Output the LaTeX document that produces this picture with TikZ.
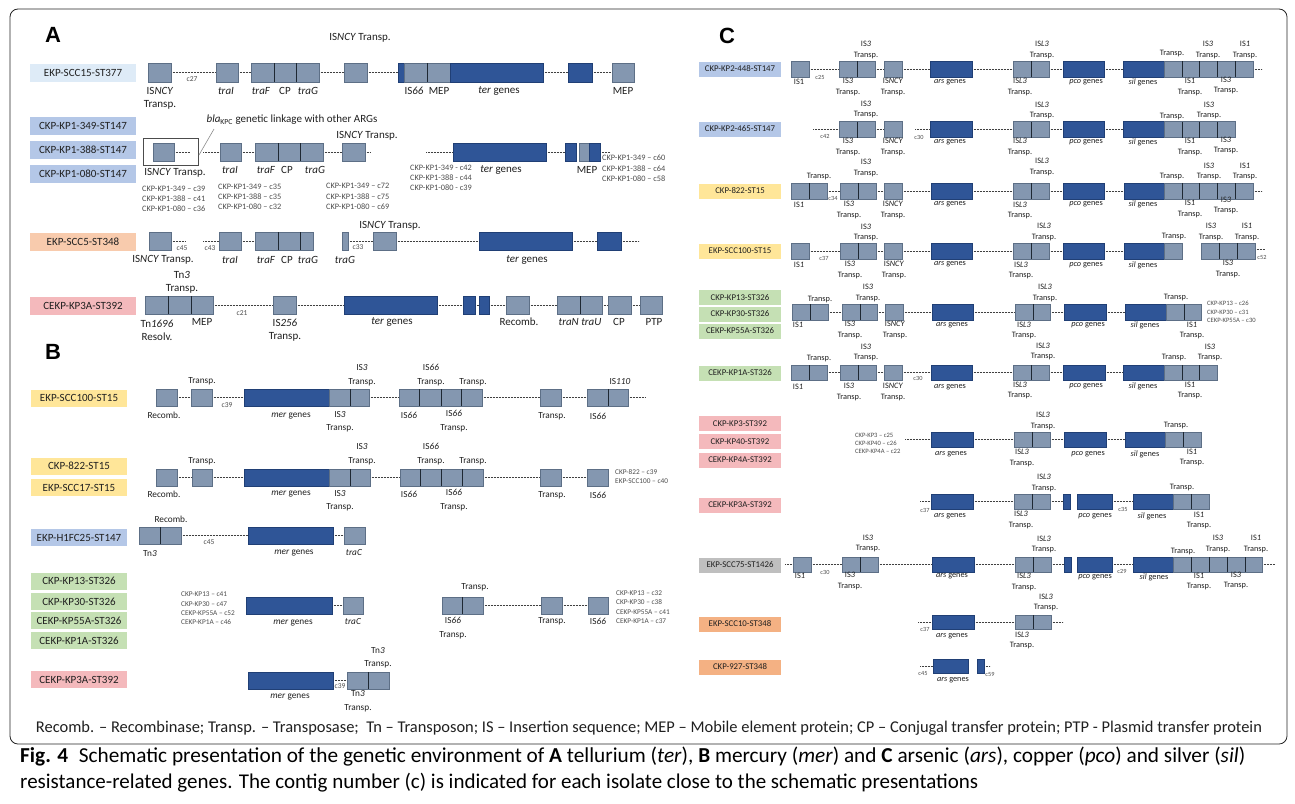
\documentclass[tikz,border=0pt]{standalone}
\usepackage{fontspec}
\setmainfont{Carlito}
\newfontfamily\hdfont{Liberation Sans}
\definecolor{lgf}{HTML}{8497B0}
\definecolor{lgd}{HTML}{5D6F86}
\definecolor{dbf}{HTML}{2F5597}
\definecolor{dbd}{HTML}{203F75}
\definecolor{dvc}{HTML}{1E2833}
\definecolor{dlc}{HTML}{404040}
\definecolor{cLB}{HTML}{DEEBF7}
\definecolor{cMB}{HTML}{B4C7E7}
\definecolor{cPe}{HTML}{F8CBAD}
\definecolor{cPk}{HTML}{F4B9BC}
\definecolor{cYe}{HTML}{FFE699}
\definecolor{cGr}{HTML}{C5E0B4}
\definecolor{cGy}{HTML}{BFBFBF}
\definecolor{cOr}{HTML}{F4B183}
\definecolor{txt}{HTML}{202020}
\definecolor{ctx}{HTML}{4D4D4D}
\newcounter{nn}
\newcommand\rowset[3]{\gdef\rowT{#1}\gdef\rowB{#2}\gdef\rowM{#3}}
\newcommand\gLt[2]{\draw[lbx] (#1,\rowT) rectangle (#2,\rowB);}
\newcommand\gDk[2]{\draw[dbx] (#1,\rowT) rectangle (#2,\rowB);}
\newcommand\gDv[1]{\draw[dvx] (#1,\rowT) -- (#1,\rowB);}
\newcommand\gDl[2]{\draw[dlx] (#1,\rowM) -- (#2,\rowM);}
\newcommand\gTx[4]{\stepcounter{nn}\node[#1] (t\arabic{nn}) at (#2,#3) {#4};}
\newcommand\gLab[5]{\stepcounter{nn}\node[#1,fill=#2] (l\arabic{nn}) at (#3,#4) {#5};}
\tikzset{
 lbx/.style={fill=lgf,draw=lgd,line width=0.6pt},
 dbx/.style={fill=dbf,draw=dbd,line width=0.6pt},
 dvx/.style={draw=dvc,line width=0.9pt},
 dlx/.style={draw=dlc,line width=0.9pt,dash pattern=on 0.7pt off 0.8pt},
 labA/.style={inner sep=0,minimum width=106pt,minimum height=18pt,font=\fontsize{11}{12}\selectfont,text=txt},
 labB/.style={inner sep=0,minimum width=96pt,minimum height=17pt,font=\fontsize{11}{12}\selectfont,text=txt},
 labC/.style={inner sep=0,minimum width=82pt,minimum height=15pt,font=\fontsize{8.8}{10}\selectfont,text=txt},
 ga/.style={inner sep=0,align=center,font=\fontsize{11}{13}\selectfont,text=txt},
 gb/.style={inner sep=0,align=center,font=\fontsize{9.3}{13.5}\selectfont,text=txt},
 gc/.style={inner sep=0,align=center,font=\fontsize{8.3}{10.5}\selectfont,text=txt},
 ctA/.style={inner sep=0,align=left,anchor=west,font=\fontsize{8.3}{10.3}\selectfont,text=ctx},
 ctB/.style={inner sep=0,align=left,anchor=west,font=\fontsize{7.3}{9.4}\selectfont,text=ctx},
 ctC/.style={inner sep=0,align=left,anchor=west,font=\fontsize{6.6}{8.3}\selectfont,text=ctx},
 cnA/.style={inner sep=0,font=\fontsize{7.5}{8}\selectfont,text=ctx},
 cnC/.style={inner sep=0,font=\fontsize{6.3}{7}\selectfont,text=ctx},
 hd/.style={inner sep=0,font=\hdfont\bfseries\fontsize{22}{24}\selectfont},
 frm/.style={draw=black!70,line width=0.6pt,fill=white},
 ann/.style={draw=black!45,line width=0.6pt}
}
\begin{document}
\begin{tikzpicture}[x=1pt,y=-1pt]
\useasboundingbox (0,0) rectangle (1295,803);
\fill[white] (0,0) rectangle (1295,803);
\draw[black!85,line width=0.8pt,rounded corners=8pt] (10,9) rectangle (1287,744);
% ================= PANEL A =================
\gTx{hd}{53}{35}{A}
% row A1
\gLab{labA}{cLB}{83}{72.5}{EKP-SCC15-ST377}
\rowset{63}{82}{72.5}
\gDl{171}{216}\gDl{238}{251}\gDl{319}{344}\gDl{367}{398}\gDl{543}{568}\gDl{592}{612}
\gLt{148}{171}\gLt{216}{238}\gLt{251}{274}\gLt{274}{296}\gLt{296}{319}\gDv{274}\gDv{296}
\gLt{344}{367}\gDk{398}{404}\gLt{404}{427}\gLt{427}{450}\gDv{427}\gDk{450}{543}\gDk{568}{592}\gLt{612}{634}
\gTx{cnA}{192}{79}{c27}
\gTx{ga}{160}{98.5}{IS\textit{NCY}\\Transp.}
\gTx{ga}{226}{91}{\textit{traI}}\gTx{ga}{261}{91}{\textit{traF}}\gTx{ga}{285}{91}{CP}\gTx{ga}{308}{91}{\textit{traG}}
\gTx{ga}{360}{38}{IS\textit{NCY} Transp.}
\gTx{ga}{414}{91}{IS\textit{66}}\gTx{ga}{439}{91}{MEP}\gTx{ga}{499}{91}{\textit{ter} genes}\gTx{ga}{623}{91}{MEP}
% row A2
\gLab{labA}{cMB}{83}{125.5}{CKP-KP1-349-ST147}
\gLab{labA}{cMB}{83}{149.5}{CKP-KP1-388-ST147}
\gLab{labA}{cMB}{83}{173.5}{CKP-KP1-080-ST147}
\draw[frm] (143,138) rectangle (198,165);
\rowset{143}{161}{152}
\gDl{174}{190}\gDl{203}{220}\gDl{241}{255}\gDl{323}{342}\gDl{365}{370}\gDl{426}{453}\gDl{546}{565}\gDl{600}{610}
\gLt{153}{174}\gLt{220}{241}\gLt{255}{278}\gLt{278}{300}\gLt{300}{323}\gDv{278}\gDv{300}\gLt{342}{365}
\gDk{453}{546}\gDk{565}{576}\gLt{579}{589}\gDk{589}{600}
\draw[ann] (199,155) -- (214,129);
\gTx{ga}{292}{120}{\textit{bla}\textsubscript{KPC} genetic linkage with other ARGs}
\gTx{ga}{175}{173}{IS\textit{NCY} Transp.}
\gTx{ga}{230}{170}{\textit{traI}}\gTx{ga}{266}{170}{\textit{traF}}\gTx{ga}{287}{170}{CP}\gTx{ga}{315}{170}{\textit{traG}}
\gTx{ga}{367}{136}{IS\textit{NCY} Transp.}
\gTx{ga}{501}{170}{\textit{ter} genes}\gTx{ga}{587}{170}{MEP}
\gTx{ctA}{142}{199}{CKP-KP1-349 -- c39\\CKP-KP1-388 -- c41\\CKP-KP1-080 -- c36}
\gTx{ctA}{218}{197}{CKP-KP1-349 -- c35\\CKP-KP1-388 -- c35\\CKP-KP1-080 -- c32}
\gTx{ctA}{326}{196.5}{CKP-KP1-349 -- c72\\CKP-KP1-388 -- c75\\CKP-KP1-080 -- c69}
\gTx{ctA}{410}{178}{CKP-KP1-349 - c42\\CKP-KP1-388 - c44\\CKP-KP1-080 - c39}
\gTx{ctA}{602}{168.5}{CKP-KP1-349 -- c60\\CKP-KP1-388 -- c64\\CKP-KP1-080 -- c58}
% row A3
\gLab{labA}{cPe}{83}{241.5}{EKP-SCC5-ST348}
\rowset{232}{250}{241}
\gDl{171}{185}\gDl{203}{219}\gDl{241}{255}\gDl{348}{373}\gDl{396}{479}\gDl{572}{597}\gDl{621}{639}
\gLt{149}{171}\gLt{219}{241}\gLt{255}{278}\gLt{278}{300}\gLt{300}{313}\gDv{278}\gDv{300}\gLt{342}{348}\gLt{373}{396}
\gDk{479}{572}\gDk{597}{621}
\gTx{cnA}{182}{248}{c45}\gTx{cnA}{210}{248}{c43}\gTx{cnA}{358}{247}{c33}
\gTx{ga}{163}{260}{IS\textit{NCY} Transp.}
\gTx{ga}{230}{260}{\textit{traI}}\gTx{ga}{266}{260}{\textit{traF}}\gTx{ga}{287}{260}{CP}\gTx{ga}{308}{260}{\textit{traG}}
\gTx{ga}{345}{260}{\textit{traG}}\gTx{ga}{390}{226}{IS\textit{NCY} Transp.}\gTx{ga}{527}{260}{\textit{ter} genes}
% row A4
\gLab{labA}{cPk}{83}{305.5}{CEKP-KP3A-ST392}
\rowset{296}{314}{305}
\gDl{213}{273}\gDl{296}{344}\gDl{437}{463}\gDl{475}{479}\gDl{489}{506}\gDl{529}{557}\gDl{602}{608}\gDl{631}{640}
\gLt{145}{168}\gLt{168}{191}\gLt{191}{213}\gDv{168}\gDv{191}\gLt{273}{296}\gDk{344}{437}\gDk{463}{475}\gDk{479}{489}
\gLt{506}{529}\gLt{557}{580}\gLt{580}{602}\gDv{580}\gLt{608}{631}\gLt{640}{662}
\gTx{cnA}{242}{313}{c21}
\gTx{ga}{182}{282}{Tn\textit{3}\\Transp.}
\gTx{ga}{157}{330}{Tn\textit{1696}\\Resolv.}\gTx{ga}{202}{322}{MEP}\gTx{ga}{285}{330}{IS\textit{256}\\Transp.}
\gTx{ga}{392}{322}{\textit{ter} genes}\gTx{ga}{519}{322}{Recomb.}\gTx{ga}{580}{322}{\textit{traN} \textit{traU}}
\gTx{ga}{619}{322}{CP}\gTx{ga}{654}{322}{PTP}
% ================= PANEL B =================
\gTx{hd}{53}{352}{B}
% row B1
\gLab{labB}{cYe}{79}{398}{EKP-SCC100-ST15}
\rowset{389}{406}{397.5}
\gDl{177}{191}\gDl{212}{244}\gDl{369}{399}\gDl{482}{540}\gDl{561}{587}\gDl{628}{645}
\gLt{156}{177}\gLt{191}{212}\gDk{244}{329}\gLt{329}{350}\gLt{350}{369}\gDv{350}
\gLt{399}{419}\gLt{419}{441}\gLt{441}{461}\gLt{461}{482}\gDv{419}\gDv{441}\gDv{461}
\gLt{540}{561}\gLt{587}{608}\gLt{608}{628}\gDv{608}
\gTx{cnA}{227}{405}{c39}
\gTx{gb}{202}{381}{Transp.}\gTx{gb}{362}{375}{IS\textit{3}\\Transp.}\gTx{gb}{431}{375}{IS\textit{66}\\Transp.}
\gTx{gb}{473}{382}{Transp.}\gTx{gb}{620}{382}{IS\textit{110}}
\gTx{gb}{164}{415}{Recomb.}\gTx{gb}{291}{416}{\textit{mer} genes}\gTx{gb}{340}{421.5}{IS\textit{3}\\Transp.}
\gTx{gb}{409}{415}{IS\textit{66}}\gTx{gb}{454}{421}{IS\textit{66}\\Transp.}\gTx{gb}{552}{416}{Transp.}\gTx{gb}{598}{416}{IS\textit{66}}
% row B2
\gLab{labB}{cYe}{79}{466}{CKP-822-ST15}
\gLab{labB}{cYe}{79}{487.5}{EKP-SCC17-ST15}
\rowset{469}{486}{477.5}
\gDl{177}{192}\gDl{212}{244}\gDl{370}{400}\gDl{483}{540}\gDl{561}{587}
\gLt{156}{177}\gLt{192}{212}\gDk{244}{329}\gLt{329}{350}\gLt{350}{370}\gDv{350}
\gLt{400}{420}\gLt{420}{441}\gLt{441}{462}\gLt{462}{483}\gDv{420}\gDv{441}\gDv{462}
\gLt{540}{561}\gLt{587}{608}
\gTx{gb}{202}{461}{Transp.}\gTx{gb}{362}{454}{IS\textit{3}\\Transp.}\gTx{gb}{431}{454}{IS\textit{66}\\Transp.}
\gTx{gb}{473}{461}{Transp.}
\gTx{gb}{164}{494}{Recomb.}\gTx{gb}{291}{494}{\textit{mer} genes}\gTx{gb}{340}{500.5}{IS\textit{3}\\Transp.}
\gTx{gb}{409}{494}{IS\textit{66}}\gTx{gb}{454}{500}{IS\textit{66}\\Transp.}\gTx{gb}{552}{495}{Transp.}\gTx{gb}{598}{495}{IS\textit{66}}
\gTx{ctB}{615}{476.5}{CKP-822 -- c39\\EKP-SCC100 -- c40}
% row B3
\gLab{labB}{cMB}{79}{537.5}{EKP-H1FC25-ST147}
\rowset{527}{544}{535.5}
\gDl{181}{248}\gDl{333}{344}
\gLt{139}{160}\gLt{160}{181}\gDv{160}\gDk{248}{333}\gLt{344}{365}
\gTx{cnA}{209}{542}{c45}
\gTx{gb}{171}{519}{Recomb.}\gTx{gb}{150}{554}{Tn\textit{3}}\gTx{gb}{294}{553}{\textit{mer} genes}\gTx{gb}{354}{553}{\textit{traC}}
% row B4
\gLab{labB}{cGr}{79}{581}{CKP-KP13-ST326}
\gLab{labB}{cGr}{79}{601.5}{CKP-KP30-ST326}
\gLab{labB}{cGr}{79}{620.5}{CEKP-KP55A-ST326}
\gLab{labB}{cGr}{79}{640.5}{CEKP-KP1A-ST326}
\rowset{597}{614}{605.5}
\gDl{332}{343}\gDl{483}{541}\gDl{562}{588}
\gDk{246}{332}\gLt{343}{363}\gLt{442}{462}\gLt{462}{483}\gDv{462}\gLt{541}{562}\gLt{588}{608}
\gTx{ctB}{181}{608.5}{CKP-KP13 -- c41\\CKP-KP30 -- c47\\CEKP-KP55A -- c52\\CEKP-KP1A -- c46}
\gTx{gb}{293}{623}{\textit{mer} genes}\gTx{gb}{353}{622}{\textit{traC}}
\gTx{gb}{475}{587}{Transp.}\gTx{gb}{453}{628}{IS\textit{66}\\Transp.}\gTx{gb}{552}{621}{Transp.}\gTx{gb}{598}{621}{IS\textit{66}}
\gTx{ctB}{616}{607}{CKP-KP13 -- c32\\CKP-KP30 -- c38\\CEKP-KP55A -- c41\\CEKP-KP1A -- c37}
% row B5
\gLab{labB}{cPk}{79}{679.5}{CEKP-KP3A-ST392}
\rowset{672}{689}{680.5}
\gDl{333}{347}
\gDk{248}{333}\gLt{347}{368}\gLt{368}{389}\gDv{368}
\gTx{cnA}{340}{686}{c39}
\gTx{gb}{378}{657.5}{Tn\textit{3}\\Transp.}
\gTx{gb}{290}{697}{\textit{mer} genes}\gTx{gb}{358}{701}{Tn\textit{3}\\Transp.}
% ================= PANEL C =================
\gTx{hd}{727}{36}{C}
% row C1
\gLab{labC}{cMB}{740}{69}{CKP-KP2-448-ST147}
\rowset{61}{77}{69}
\gDl{809}{839}\gDl{875}{884}\gDl{902}{930}\gDl{972}{1013}\gDl{1049}{1063}\gDl{1104}{1123}\gDl{1253}{1262}
\gLt{791}{809}\gLt{839}{857}\gLt{857}{875}\gDv{857}\gLt{884}{902}\gDk{930}{972}
\gLt{1013}{1031}\gLt{1031}{1049}\gDv{1031}\gDk{1063}{1104}\gDk{1123}{1164}
\gLt{1164}{1182}\gLt{1182}{1199}\gLt{1199}{1217}\gLt{1217}{1235}\gLt{1235}{1253}\gDv{1182}\gDv{1199}\gDv{1217}\gDv{1235}
\gTx{cnC}{820}{77}{c25}
\gTx{gc}{866}{50}{IS\textit{3}\\Transp.}\gTx{gc}{799}{82}{IS1}\gTx{gc}{848}{87}{IS\textit{3}\\Transp.}
\gTx{gc}{893}{87}{IS\textit{NCY}\\Transp.}\gTx{gc}{950}{82}{\textit{ars} genes}
\gTx{gc}{1042}{50}{IS\textit{L3}\\Transp.}\gTx{gc}{1020}{87}{IS\textit{L3}\\Transp.}
\gTx{gc}{1086}{82}{\textit{pco} genes}\gTx{gc}{1143}{82}{\textit{sil} genes}
\gTx{gc}{1172}{54}{Transp.}\gTx{gc}{1208}{50}{IS\textit{3}\\Transp.}\gTx{gc}{1245}{50}{IS\textit{1}\\Transp.}
\gTx{gc}{1190}{87}{IS\textit{1}\\Transp.}\gTx{gc}{1226}{85.5}{IS\textit{3}\\Transp.}
% row C2
\gLab{labC}{cMB}{740}{129}{CKP-KP2-465-ST147}
\rowset{121.5}{137.5}{129.5}
\gDl{813}{839}\gDl{875}{884}\gDl{915}{930}\gDl{972}{1013}\gDl{1049}{1063}\gDl{1104}{1123}
\gLt{839}{857}\gLt{857}{875}\gDv{857}\gLt{884}{902}\gDk{930}{972}
\gLt{1013}{1031}\gLt{1031}{1049}\gDv{1031}\gDk{1063}{1104}\gDk{1123}{1164}
\gLt{1164}{1182}\gLt{1182}{1199}\gLt{1199}{1217}\gLt{1217}{1235}\gDv{1182}\gDv{1199}\gDv{1217}
\gTx{cnC}{825}{136}{c42}\gTx{cnC}{919}{137}{c30}
\gTx{gc}{866}{109.5}{IS\textit{3}\\Transp.}\gTx{gc}{848}{147}{IS\textit{3}\\Transp.}
\gTx{gc}{893}{147}{IS\textit{NCY}\\Transp.}\gTx{gc}{950}{142}{\textit{ars} genes}
\gTx{gc}{1042}{110.5}{IS\textit{L3}\\Transp.}\gTx{gc}{1020}{147}{IS\textit{L3}\\Transp.}
\gTx{gc}{1086}{142}{\textit{pco} genes}\gTx{gc}{1143}{142}{\textit{sil} genes}
\gTx{gc}{1172}{117}{Transp.}\gTx{gc}{1209}{110.5}{IS\textit{3}\\Transp.}
\gTx{gc}{1190}{147}{IS\textit{1}\\Transp.}\gTx{gc}{1226}{145.5}{IS\textit{3}\\Transp.}
% row C3
\gLab{labC}{cYe}{740}{191}{CKP-822-ST15}
\rowset{183}{199}{191}
\gDl{827}{840}\gDl{876}{884}\gDl{902}{931}\gDl{972}{1013}\gDl{1049}{1063}\gDl{1104}{1124}\gDl{1253}{1262}
\gLt{791}{809}\gLt{809}{827}\gDv{809}\gLt{840}{858}\gLt{858}{876}\gDv{858}\gLt{884}{902}\gDk{931}{972}
\gLt{1013}{1031}\gLt{1031}{1049}\gDv{1031}\gDk{1063}{1104}\gDk{1124}{1164}
\gLt{1164}{1182}\gLt{1182}{1199}\gLt{1199}{1217}\gLt{1217}{1235}\gLt{1235}{1253}\gDv{1182}\gDv{1199}\gDv{1217}\gDv{1235}
\gTx{cnC}{833}{198}{c34}
\gTx{gc}{819}{177}{Transp.}\gTx{gc}{799}{205}{IS\textit{1}}
\gTx{gc}{866}{168}{IS\textit{3}\\Transp.}\gTx{gc}{849}{210}{IS\textit{3}\\Transp.}
\gTx{gc}{893}{210}{IS\textit{NCY}\\Transp.}\gTx{gc}{950}{204}{\textit{ars} genes}
\gTx{gc}{1042}{167}{IS\textit{L3}\\Transp.}\gTx{gc}{1020}{210.5}{IS\textit{L3}\\Transp.}
\gTx{gc}{1086}{204}{\textit{pco} genes}\gTx{gc}{1143}{204}{\textit{sil} genes}
\gTx{gc}{1172}{177}{Transp.}\gTx{gc}{1209}{171.5}{IS\textit{3}\\Transp.}\gTx{gc}{1245}{171.5}{IS\textit{1}\\Transp.}
\gTx{gc}{1190}{209}{IS\textit{1}\\Transp.}\gTx{gc}{1226}{205.5}{IS\textit{3}\\Transp.}
% row C4
\gLab{labC}{cYe}{740}{251}{EKP-SCC100-ST15}
\rowset{243}{259}{251}
\gDl{809}{840}\gDl{876}{884}\gDl{902}{931}\gDl{972}{1013}\gDl{1049}{1063}\gDl{1104}{1124}
\draw[dlx] (1255,249) -- (1265,249);
\gLt{791}{809}\gLt{840}{858}\gLt{858}{876}\gDv{858}\gLt{884}{902}\gDk{931}{972}
\gLt{1013}{1031}\gLt{1031}{1049}\gDv{1031}\gDk{1063}{1104}\gDk{1124}{1164}\gLt{1164}{1182}
\gLt{1201}{1219}\gLt{1219}{1237}\gLt{1237}{1255}\gDv{1219}\gDv{1237}
\gTx{cnC}{824}{258}{c37}\gTx{cnC}{1262}{257}{c52}
\gTx{gc}{866}{232.5}{IS\textit{3}\\Transp.}\gTx{gc}{799}{265}{IS\textit{1}}
\gTx{gc}{850}{270}{IS\textit{3}\\Transp.}\gTx{gc}{894}{270}{IS\textit{NCY}\\Transp.}\gTx{gc}{950}{264}{\textit{ars} genes}
\gTx{gc}{1044}{232}{IS\textit{L3}\\Transp.}\gTx{gc}{1021}{270.5}{IS\textit{L3}\\Transp.}
\gTx{gc}{1086}{265}{\textit{pco} genes}\gTx{gc}{1143}{265}{\textit{sil} genes}
\gTx{gc}{1174}{237}{Transp.}\gTx{gc}{1211}{232}{IS\textit{3}\\Transp.}\gTx{gc}{1247}{232}{IS\textit{1}\\Transp.}
\gTx{gc}{1228}{269}{IS\textit{3}\\Transp.}
% row C5
\gLab{labC}{cGr}{740}{297.5}{CKP-KP13-ST326}
\gLab{labC}{cGr}{740}{314}{CKP-KP30-ST326}
\gLab{labC}{cGr}{740}{331}{CEKP-KP55A-ST326}
\rowset{304}{320}{312}
\gDl{828}{842}\gDl{877}{885}\gDl{903}{932}\gDl{973}{1015}\gDl{1050}{1064}\gDl{1106}{1125}
\gLt{792}{810}\gLt{810}{828}\gDv{810}\gLt{842}{860}\gLt{860}{877}\gDv{860}\gLt{885}{903}\gDk{932}{973}
\gLt{1015}{1033}\gLt{1033}{1050}\gDv{1033}\gDk{1064}{1106}\gDk{1125}{1166}\gLt{1166}{1184}\gLt{1184}{1201}\gDv{1184}
\gTx{gc}{820}{300}{Transp.}\gTx{gc}{868}{293}{IS\textit{3}\\Transp.}\gTx{gc}{798}{325}{IS\textit{1}}
\gTx{gc}{850}{330}{IS\textit{3}\\Transp.}\gTx{gc}{895}{330}{IS\textit{NCY}\\Transp.}\gTx{gc}{952}{325}{\textit{ars} genes}
\gTx{gc}{1045}{293}{IS\textit{L3}\\Transp.}\gTx{gc}{1024}{330.5}{IS\textit{L3}\\Transp.}
\gTx{gc}{1088}{325}{\textit{pco} genes}\gTx{gc}{1145}{325}{\textit{sil} genes}
\gTx{gc}{1176}{298}{Transp.}\gTx{gc}{1192}{330.5}{IS\textit{1}\\Transp.}
\gTx{ctC}{1207}{312}{CKP-KP13 -- c26\\CKP-KP30 -- c31\\CEKP-KP55A -- c30}
% row C6
\gLab{labC}{cGr}{740}{373}{CEKP-KP1A-ST326}
\rowset{365}{380}{372.5}
\gDl{827}{840}\gDl{876}{884}\gDl{902}{931}\gDl{972}{1013}\gDl{1049}{1063}\gDl{1105}{1123}
\gLt{791}{809}\gLt{809}{827}\gDv{809}\gLt{840}{858}\gLt{858}{876}\gDv{858}\gLt{884}{902}\gDk{931}{972}
\gLt{1013}{1031}\gLt{1031}{1049}\gDv{1031}\gDk{1063}{1105}\gDk{1123}{1164}
\gLt{1164}{1182}\gLt{1182}{1199}\gLt{1199}{1217}\gDv{1182}\gDv{1199}
\gTx{cnC}{918}{378}{c30}
\gTx{gc}{819}{359}{Transp.}\gTx{gc}{866}{352.5}{IS\textit{3}\\Transp.}\gTx{gc}{798}{387}{IS\textit{1}}
\gTx{gc}{849}{392}{IS\textit{3}\\Transp.}\gTx{gc}{893}{392}{IS\textit{NCY}\\Transp.}\gTx{gc}{950}{387}{\textit{ars} genes}
\gTx{gc}{1043}{351.5}{IS\textit{L3}\\Transp.}\gTx{gc}{1020}{390.5}{IS\textit{L3}\\Transp.}
\gTx{gc}{1086}{386}{\textit{pco} genes}\gTx{gc}{1143}{386}{\textit{sil} genes}
\gTx{gc}{1174}{358}{Transp.}\gTx{gc}{1210}{352.5}{IS\textit{3}\\Transp.}\gTx{gc}{1190}{390.5}{IS\textit{1}\\Transp.}
% row C7
\gLab{labC}{cPk}{740}{423.5}{CKP-KP3-ST392}
\gLab{labC}{cPk}{740}{441.5}{CKP-KP40-ST392}
\gLab{labC}{cPk}{740}{460}{CEKP-KP4A-ST392}
\rowset{432}{447}{439.5}
\gDl{905}{931}\gDl{973}{1014}\gDl{1050}{1064}\gDl{1106}{1125}
\gDk{931}{973}\gLt{1014}{1032}\gLt{1032}{1050}\gDv{1032}\gDk{1064}{1106}\gDk{1125}{1165}\gLt{1165}{1183}\gLt{1183}{1201}\gDv{1183}
\gTx{ctC}{855}{443.5}{CKP-KP3 -- c25\\CKP-KP40 -- c26\\CEKP-KP4A -- c22}
\gTx{gc}{951}{454}{\textit{ars} genes}\gTx{gc}{1043}{421}{IS\textit{L3}\\Transp.}\gTx{gc}{1022}{458}{IS\textit{L3}\\Transp.}
\gTx{gc}{1088}{454}{\textit{pco} genes}\gTx{gc}{1145}{454}{\textit{sil} genes}
\gTx{gc}{1176}{426}{Transp.}\gTx{gc}{1192}{457.5}{IS\textit{1}\\Transp.}
% row C8
\gLab{labC}{cPk}{740}{505}{CEKP-KP3A-ST392}
\rowset{494}{509}{501.5}
\gDl{920}{931}\gDl{973}{1014}\gDl{1050}{1063}\gDl{1112}{1133}
\gDk{931}{973}\gLt{1014}{1032}\gLt{1032}{1050}\gDv{1032}\gDk{1063}{1070}\gDk{1077}{1112}\gDk{1133}{1173}
\gLt{1173}{1191}\gLt{1191}{1209}\gDv{1191}
\gTx{cnC}{925}{510}{c37}\gTx{cnC}{1123}{509}{c35}
\gTx{gc}{950}{516}{\textit{ars} genes}\gTx{gc}{1044}{483}{IS\textit{L3}\\Transp.}\gTx{gc}{1021}{520}{IS\textit{L3}\\Transp.}
\gTx{gc}{1095}{516}{\textit{pco} genes}\gTx{gc}{1152}{516}{\textit{sil} genes}
\gTx{gc}{1182}{487}{Transp.}\gTx{gc}{1199}{520.5}{IS\textit{1}\\Transp.}
% row C9
\gLab{labC}{cGy}{740}{565}{EKP-SCC75-ST1426}
\rowset{557}{572}{564.5}
\gDl{785}{793}\gDl{811}{842}\gDl{878}{932}\gDl{974}{1015}\gDl{1051}{1064}\gDl{1112}{1133}\gDl{1262}{1275}
\gLt{793}{811}\gLt{842}{860}\gLt{860}{878}\gDv{860}\gDk{932}{974}
\gLt{1015}{1033}\gLt{1033}{1051}\gDv{1033}\gDk{1064}{1071}\gDk{1077}{1112}\gDk{1133}{1173}
\gLt{1173}{1191}\gLt{1191}{1209}\gLt{1209}{1227}\gLt{1227}{1245}\gLt{1245}{1262}\gDv{1191}\gDv{1209}\gDv{1227}\gDv{1245}
\gTx{cnC}{825}{572}{c30}\gTx{cnC}{1122}{571}{c29}
\gTx{gc}{868}{543.5}{IS\textit{3}\\Transp.}\gTx{gc}{800}{576}{IS\textit{1}}\gTx{gc}{850}{581}{IS\textit{3}\\Transp.}
\gTx{gc}{952}{576}{\textit{ars} genes}
\gTx{gc}{1044}{544.5}{IS\textit{L3}\\Transp.}\gTx{gc}{1024}{582}{IS\textit{L3}\\Transp.}
\gTx{gc}{1095}{577}{\textit{pco} genes}\gTx{gc}{1154}{577}{\textit{sil} genes}
\gTx{gc}{1183}{551}{Transp.}\gTx{gc}{1218}{544}{IS\textit{3}\\Transp.}\gTx{gc}{1256}{544}{IS\textit{1}\\Transp.}
\gTx{gc}{1199}{581.5}{IS\textit{1}\\Transp.}\gTx{gc}{1236}{580.5}{IS\textit{3}\\Transp.}
% row C10
\gLab{labC}{cOr}{740}{624}{EKP-SCC10-ST348}
\rowset{615}{629}{622}
\gDl{918}{932}\gDl{974}{1015}\gDl{1051}{1063}
\gDk{932}{974}\gLt{1015}{1033}\gLt{1033}{1051}\gDv{1033}
\gTx{cnC}{925}{629}{c37}
\gTx{gc}{952}{636}{\textit{ars} genes}\gTx{gc}{1046}{602.5}{IS\textit{L3}\\Transp.}\gTx{gc}{1022}{640.5}{IS\textit{L3}\\Transp.}
% row C11
\gLab{labC}{cOr}{740}{667}{CKP-927-ST348}
\rowset{659}{673}{666}
\gDl{920}{933}\gDl{984}{990}
\gDk{933}{968}\gDk{977}{984}
\gTx{cnC}{923}{673}{c45}\gTx{cnC}{990}{674}{c59}
\gTx{gc}{953}{680}{\textit{ars} genes}
% ================= LEGEND & CAPTION =================
\node[inner sep=0,text=txt] (leg) at (649,728) {\resizebox{1226pt}{!}{\fontsize{13}{14}\selectfont Recomb. -- Recombinase; Transp. -- Transposase;\ \ Tn -- Transposon; IS -- Insertion sequence; MEP -- Mobile element protein; CP -- Conjugal transfer protein; PTP - Plasmid transfer protein}};
\node[inner sep=0,anchor=west] (cap1) at (20,757) {\resizebox{1225pt}{!}{\fontsize{18}{20}\selectfont\textbf{Fig. 4}\hspace{0.5em}Schematic presentation of the genetic environment of \textbf{A} tellurium (\textit{ter}), \textbf{B} mercury (\textit{mer}) and \textbf{C} arsenic (\textit{ars}), copper (\textit{pco}) and silver (\textit{sil})}};
\node[inner sep=0,anchor=west] (cap2) at (20,783) {\resizebox{958pt}{!}{\fontsize{18}{20}\selectfont resistance-related genes. The contig number (c) is indicated for each isolate close to the schematic presentations}};
\end{tikzpicture}
\end{document}
